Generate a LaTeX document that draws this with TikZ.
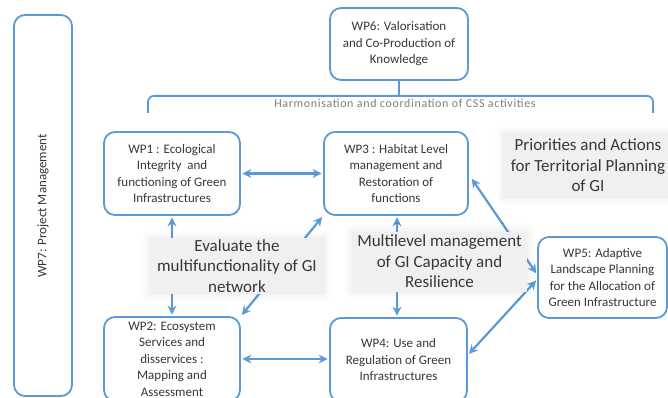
\documentclass[tikz,border=0pt]{standalone}
\usepackage{fontspec}
\setmainfont{Carlito}
\usetikzlibrary{arrows.meta,calc,shadows.blur}
\definecolor{bl}{RGB}{91,155,213}
\definecolor{tx}{RGB}{55,55,55}
\definecolor{lbg}{RGB}{240,240,240}
\definecolor{hg}{RGB}{125,125,125}
\begin{document}
\begin{tikzpicture}[x=1pt,y=-1pt,
  wp/.style={draw=bl, line width=1.8pt, rounded corners=11pt, fill=white, align=center, text=tx,
    font=\fontsize{13}{16.5}\selectfont, inner sep=0pt},
  arr/.style={draw=bl, line width=2.2pt, {Stealth[length=9pt,width=9pt]}-{Stealth[length=9pt,width=9pt]},
    shorten <=1.5pt, shorten >=1.5pt},
  lbl/.style={fill=lbg, align=center, text=tx, font=\fontsize{17}{20.5}\selectfont, inner sep=0pt,
    blur shadow={shadow xshift=0pt, shadow yshift=0pt, shadow blur radius=8pt, shadow opacity=10}},
  brk/.style={draw=bl, line width=1.8pt}
]
\useasboundingbox (0,0) rectangle (668,398);
\clip (0,0) rectangle (668,398);

% WP7
\node[wp, minimum width=58pt, minimum height=381pt] (wp7) at (43,205.5) {};
\node[rotate=90, text=tx, font=\fontsize{13}{16}\selectfont] (wp7t) at (43,206) {WP7: Project Management};

% WP6
\node[wp, minimum width=138pt, minimum height=72pt] (wp6) at (399,44) {WP6: Valorisation\\and Co-Production of\\Knowledge};

% bracket
\coordinate (bL) at (148,113);
\coordinate (bR) at (653,113);
\coordinate (bM) at ($(wp6.south)+(0,15)$);
\draw[brk, rounded corners=6pt] (bL) -- (bL |- bM) -- (bR |- bM) -- (bR);
\draw[brk] (wp6.south) -- (bM);
\node[text=hg, font=\fontsize{12}{13}\selectfont\addfontfeature{LetterSpace=5.5}] (harm) at (405,103) {Harmonisation and coordination of CSS activities};

% WP boxes
\node[wp, minimum width=136pt, minimum height=83pt] (wp1) at (172,173.5) {WP1 : Ecological\\Integrity\ \ and\\functioning of Green\\Infrastructures};
\node[wp, minimum width=144pt, minimum height=83pt] (wp3) at (396,173.5) {WP3 : Habitat Level\\management and\\Restoration of\\functions};
\node[wp, minimum width=136pt, minimum height=84pt] (wp2) at (172,359) {WP2: Ecosystem\\Services and\\disservices :\\Mapping and\\Assessment};
\node[wp, minimum width=137pt, minimum height=84pt] (wp4) at (398.5,360) {WP4: Use and\\Regulation of Green\\Infrastructures};
\node[wp, minimum width=129pt, minimum height=81pt] (wp5) at (602.5,277.5) {WP5: Adaptive\\Landscape Planning\\for the Allocation of\\Green Infrastructure};

% arrows
\draw[arr] (wp1.east) -- (wp3.west);
\draw[arr] (wp1.south) -- (wp2.north);
\draw[arr] (wp2.east |- 0,359) -- (wp4.west |- 0,359);
\draw[arr] (wp3.south -| 397,0) -- (wp4.north -| 397,0);
\draw[arr] (wp2.north east) -- (wp3.south west);
\coordinate (p3) at ($(wp3.east)+(2,4)$);
\coordinate (p4) at ($(wp4.east)+(0,-5)$);
\coordinate (p5a) at ($(wp5.west)+(0,-3)$);
\coordinate (p5b) at ($(wp5.west)+(0,2)$);
\draw[arr] (p3) -- (p5a);
\draw[arr] (p5b) -- (p4);

% labels
\node[lbl, minimum width=175pt, minimum height=56pt] (eval) at (237,266) {Evaluate the\\multifunctionality of GI\\network};
\node[lbl, minimum width=175pt, minimum height=60pt] (multi) at (439.5,261.5) {Multilevel management\\of GI Capacity and\\Resilience};
\node[lbl, minimum width=170pt, minimum height=64pt] (prio) at (588,165.5) {Priorities and Actions\\for Territorial Planning\\of GI};
\end{tikzpicture}
\end{document}
